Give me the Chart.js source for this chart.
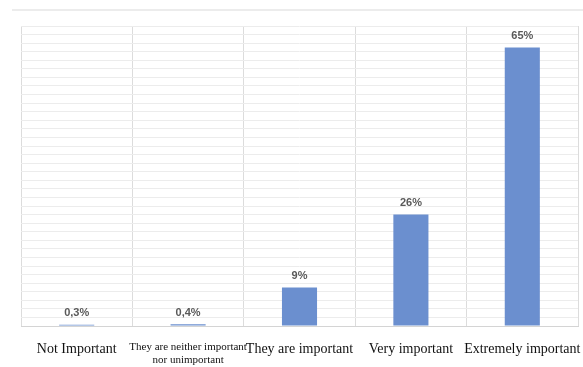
<!DOCTYPE html>
<html>
<head>
<meta charset="utf-8">
<script src="https://cdn.jsdelivr.net/npm/chart.js@4"></script>
<style>
  html, body { margin: 0; padding: 0; background: #fff; }
  #wrap { position: relative; width: 583px; height: 367px; }
  #topline { position: absolute; left: 12px; right: 0; top: 9px; height: 2px; background: #ececec; }
</style>
</head>
<body>
<div id="wrap">
  <div id="topline"></div>
  <canvas id="chart" width="583" height="367"></canvas>
</div>
<script>
const categories = [
  'Not Important',
  ['They are neither important', 'nor unimportant'],
  'They are important',
  'Very important',
  'Extremely important'
];
const values = [0.3, 0.4, 9, 26, 65];
const valueLabels = ['0,3%', '0,4%', '9%', '26%', '65%'];

// draw the percentage above each bar
const barLabels = {
  id: 'barLabels',
  afterDatasetsDraw(chart) {
    const ctx = chart.ctx;
    const meta = chart.getDatasetMeta(0);
    ctx.save();
    ctx.font = 'bold 11px "Liberation Sans", Arial, sans-serif';
    ctx.fillStyle = '#595959';
    ctx.textAlign = 'center';
    ctx.textBaseline = 'bottom';
    meta.data.forEach(function(bar, i) {
      ctx.fillText(valueLabels[i], bar.x, bar.y - 6);
    });
    ctx.restore();
  }
};

new Chart(document.getElementById('chart').getContext('2d'), {
  type: 'bar',
  data: {
    labels: categories,
    datasets: [{
      data: values,
      backgroundColor: '#6b8fcf',
      barPercentage: 0.63,
      categoryPercentage: 0.5
    }]
  },
  options: {
    responsive: false,
    animation: false,
    layout: { padding: { left: 21, top: 26, right: 5, bottom: 0 } },
    plugins: { legend: { display: false }, tooltip: { enabled: false } },
    scales: {
      x: {
        grid: { offset: true, color: '#dcdcdc', drawTicks: false },
        border: { color: '#d4d4d4' },
        ticks: {
          color: '#111',
          padding: 15,
          maxRotation: 0,
          autoSkip: false,
          font: function(c) {
            if (c.index === 1) return { family: '"Liberation Serif", "Times New Roman", serif', size: 11, lineHeight: 1.15 };
            return { family: '"Liberation Serif", "Times New Roman", serif', size: 14 };
          }
        },
        afterFit(scale) {
          scale.height = 41;
          scale.paddingLeft = 0;
          scale.paddingRight = 0;
        }
      },
      y: {
        min: 0,
        max: 70,
        grid: { color: '#ececec', drawTicks: false },
        border: { display: false },
        ticks: { display: false, stepSize: 2 },
        afterFit(scale) { scale.width = 0; }
      }
    }
  },
  plugins: [barLabels]
});
</script>
</body>
</html>
